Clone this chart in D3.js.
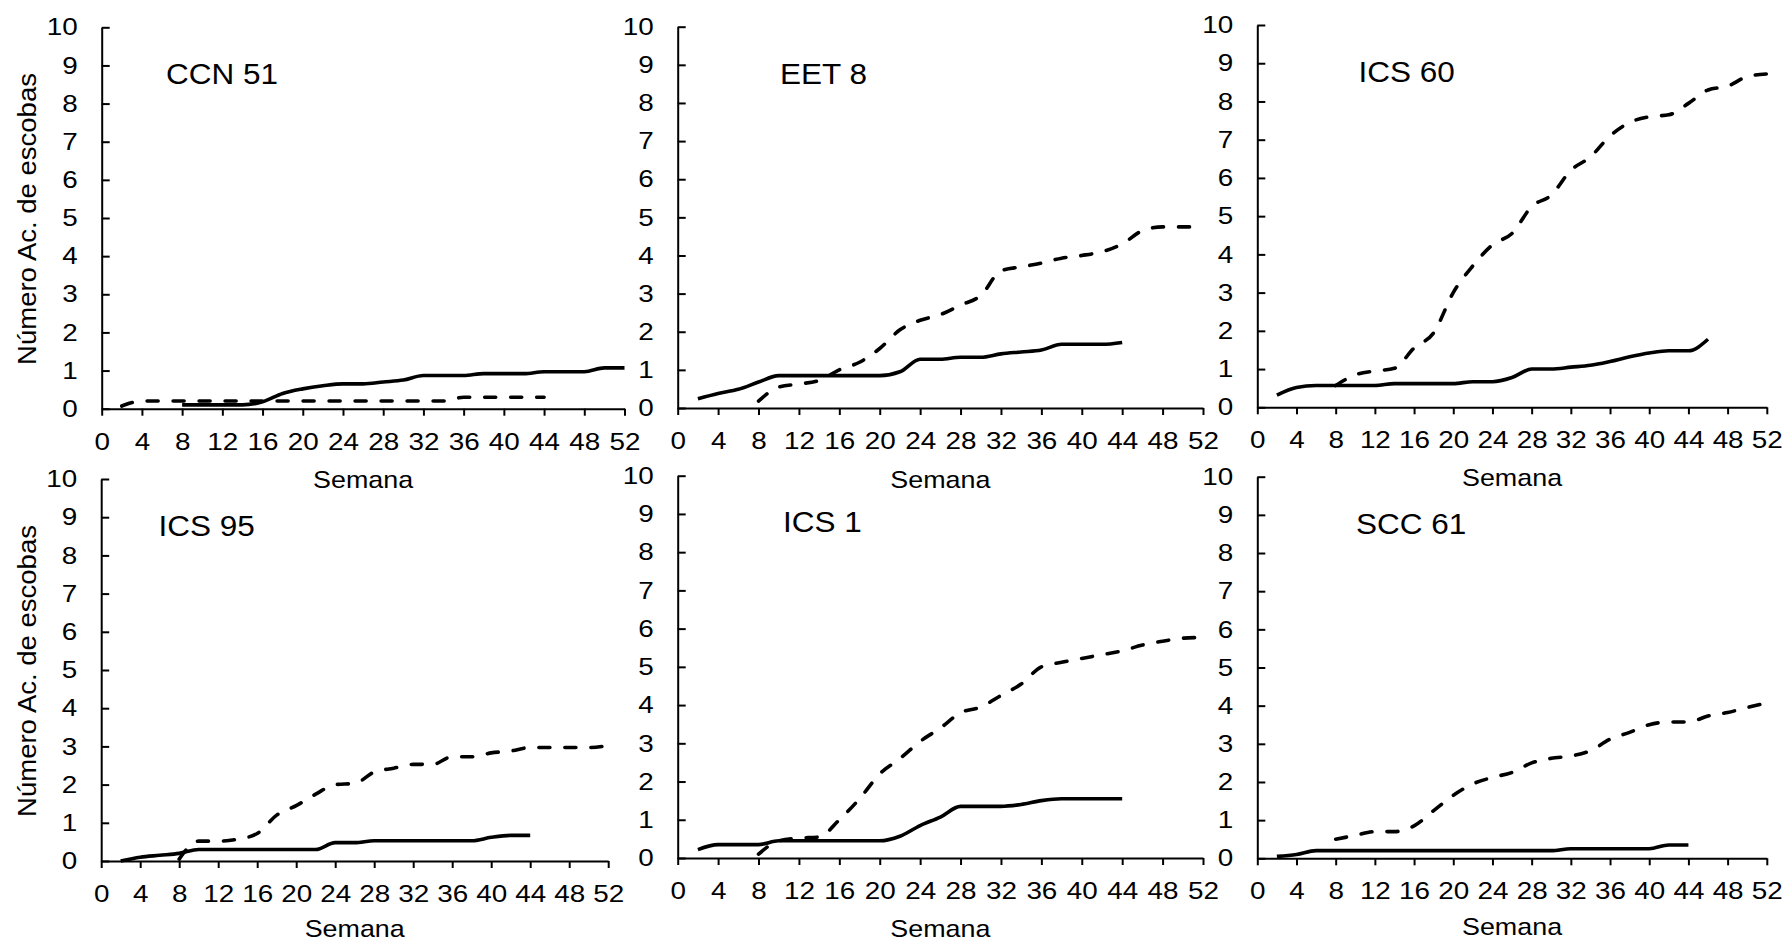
<!DOCTYPE html>
<html>
<head>
<meta charset="utf-8">
<script src="https://cdn.jsdelivr.net/npm/d3@7"></script>
<style>
  html, body { margin: 0; padding: 0; background: #fff; }
  svg { display: block; font-family: "Liberation Sans", Arial, sans-serif; }
</style>
</head>
<body>
<svg id="chart" width="1786" height="943"></svg>
<script>
// Semanas de evaluación (eje x)
const weeks = [2,4,6,8,10,12,14,16,18,20,22,24,26,28,30,32,34,36,38,40,42,44,46,48,50,52];
const xTicks = [0,4,8,12,16,20,24,28,32,36,40,44,48,52];
const yTicks = [0,1,2,3,4,5,6,7,8,9,10];
const cultivars = ["CCN 51", "EET 8", "ICS 60", "ICS 95", "ICS 1", "SCC 61"];

// Número acumulado de escobas por semana (null = sin registro)
const ccn51Solid  = [null,null,null,0.1,0.1,0.1,0.1,0.18,0.4,0.52,0.6,0.65,0.65,0.7,0.75,0.87,0.87,0.87,0.92,0.92,0.92,0.97,0.97,0.97,1.07,1.07];
const ccn51Dashed = [0.07,0.2,0.2,0.2,0.2,0.2,0.2,0.2,0.2,0.2,0.2,0.2,0.2,0.2,0.2,0.2,0.2,0.3,0.3,0.3,0.3,0.3,null,null,null,null];

const eet8Solid  = [0.24,0.38,0.49,0.68,0.85,0.85,0.85,0.85,0.85,0.85,0.95,1.28,1.28,1.33,1.33,1.42,1.47,1.52,1.67,1.67,1.67,1.72,null,null,null,null];
const eet8Dashed = [null,null,null,0.18,0.55,0.63,0.72,1.0,1.2,1.56,2.05,2.3,2.45,2.7,2.95,3.6,3.7,3.8,3.93,4.0,4.1,4.3,4.65,4.75,4.75,4.75];

const ics60Solid  = [0.32,0.52,0.57,0.57,0.57,0.57,0.62,0.62,0.62,0.62,0.67,0.67,0.78,1.0,1.0,1.05,1.1,1.2,1.32,1.42,1.48,1.48,1.78,null,null,null];
const ics60Dashed = [null,null,null,0.57,0.85,0.95,1.02,1.55,1.95,3.0,3.7,4.25,4.55,5.25,5.55,6.2,6.55,7.1,7.45,7.6,7.65,7.95,8.3,8.4,8.65,8.72];

const ics95Solid  = [0,0.1,0.15,0.2,0.3,0.3,0.3,0.3,0.3,0.3,0.3,0.48,0.48,0.53,0.53,0.53,0.53,0.53,0.53,0.62,0.67,0.67,null,null,null,null];
const ics95Dashed = [null,null,null,0.05,0.52,0.52,0.57,0.72,1.2,1.45,1.75,2.0,2.03,2.33,2.43,2.53,2.53,2.73,2.73,2.83,2.88,2.97,2.97,2.97,2.97,3.02];

const ics1Solid  = [0.22,0.35,0.35,0.35,0.45,0.45,0.45,0.45,0.45,0.45,0.57,0.85,1.07,1.35,1.35,1.35,1.4,1.5,1.55,1.55,1.55,1.55,null,null,null,null];
const ics1Dashed = [null,null,null,0.1,0.45,0.52,0.55,1.0,1.55,2.2,2.6,3.05,3.4,3.8,3.95,4.25,4.55,5.0,5.12,5.22,5.32,5.42,5.57,5.67,5.75,5.77];

const scc61Solid  = [0.05,0.1,0.2,0.2,0.2,0.2,0.2,0.2,0.2,0.2,0.2,0.2,0.2,0.2,0.2,0.25,0.25,0.25,0.25,0.25,0.35,0.35,null,null,null,null];
const scc61Dashed = [null,null,null,0.5,0.6,0.7,0.7,0.85,1.25,1.65,1.95,2.12,2.25,2.5,2.62,2.68,2.82,3.12,3.3,3.5,3.57,3.57,3.73,3.82,3.95,4.07];

const solidSeries  = [ccn51Solid, eet8Solid, ics60Solid, ics95Solid, ics1Solid, scc61Solid];
const dashedSeries = [ccn51Dashed, eet8Dashed, ics60Dashed, ics95Dashed, ics1Dashed, scc61Dashed];

// Marco de cada panel: extremos de los ejes en píxeles
const frames = [
  { x0: 101.7, x1: 624.5,  y0: 408.7, y1: 27.3,  title: [166, 84],    xLab: 488,   yLabel: true  },
  { x0: 677.7, x1: 1203,   y0: 408,   y1: 26.7,  title: [780, 83.5],  xLab: 488,   yLabel: false },
  { x0: 1257.3,x1: 1766.8, y0: 407.3, y1: 25,    title: [1358.5, 82], xLab: 485.5, yLabel: false },
  { x0: 101.2, x1: 608.2,  y0: 861,   y1: 479,   title: [158.5, 536], xLab: 936.5, yLabel: true  },
  { x0: 677.7, x1: 1203,   y0: 858,   y1: 475.7, title: [783, 532],   xLab: 936.5, yLabel: false },
  { x0: 1257.3,x1: 1766.8, y0: 858.3, y1: 476.7, title: [1356, 533.5],xLab: 935,   yLabel: false }
];

// Tipografía: tamaño y ensanchamiento horizontal de cada clase de texto
const tickFont = 24, tickStretch = 1.16;
const titleFont = 30, titleStretch = 1.05;
const axisTitleFont = 24, axisTitleStretch = 1.12;

const svg = d3.select("#chart");

frames.forEach((f, i) => {
  const x = d3.scaleLinear().domain([0, 52]).range([f.x0, f.x1]);
  const y = d3.scaleLinear().domain([0, 10]).range([f.y0, f.y1]);
  const g = svg.append("g");

  // Eje x
  const gx = g.append("g")
    .attr("transform", `translate(0,${f.y0})`)
    .call(d3.axisBottom(x).tickValues(xTicks).tickSize(7).tickSizeOuter(0).tickPadding(17));
  // Eje y con marcas hacia el interior
  const gy = g.append("g")
    .attr("transform", `translate(${f.x0},0)`)
    .call(d3.axisLeft(y).tickValues(yTicks).tickSize(-8).tickSizeOuter(0).tickPadding(24));

  [gx, gy].forEach(a => {
    a.select(".domain").attr("stroke", "#000").attr("stroke-width", 2);
    a.selectAll(".tick line").attr("stroke", "#000").attr("stroke-width", 2);
    a.selectAll(".tick text").attr("fill", "#000").style("font-size", tickFont + "px")
      .style("font-family", '"Liberation Sans", Arial, sans-serif')
      .attr("transform", `scale(${tickStretch},1)`);
  });
  gy.selectAll(".tick text").attr("x", -24 / tickStretch);

  // Líneas de datos
  const line = d3.line()
    .defined(d => d.v !== null)
    .x(d => x(d.w))
    .y(d => y(d.v))
    .curve(d3.curveMonotoneX);

  const solid = weeks.map((w, k) => ({ w, v: solidSeries[i][k] }));
  const dashed = weeks.map((w, k) => ({ w, v: dashedSeries[i][k] }));

  g.append("path").datum(dashed)
    .attr("d", line)
    .attr("fill", "none").attr("stroke", "#000").attr("stroke-width", 3.6)
    .attr("stroke-dasharray", "11,15").attr("stroke-linecap", "round").attr("stroke-linejoin", "round");

  g.append("path").datum(solid)
    .attr("d", line)
    .attr("fill", "none").attr("stroke", "#000").attr("stroke-width", 3.6)
    .attr("stroke-linecap", "butt").attr("stroke-linejoin", "round");

  // Nombre del cultivar
  g.append("text")
    .attr("transform", `translate(${f.title[0]},${f.title[1]}) scale(${titleStretch},1)`)
    .style("font-size", titleFont + "px").attr("fill", "#000")
    .text(cultivars[i]);

  // Título del eje x
  g.append("text")
    .attr("transform", `translate(${(f.x0 + f.x1) / 2},${f.xLab}) scale(${axisTitleStretch},1)`)
    .attr("text-anchor", "middle")
    .style("font-size", axisTitleFont + "px").attr("fill", "#000")
    .text("Semana");

  // Título del eje y
  if (f.yLabel) {
    const cy = (f.y0 + f.y1) / 2 + 1;
    g.append("text")
      .attr("transform", `translate(36,${cy}) rotate(-90) scale(1.1,1)`)
      .attr("text-anchor", "middle")
      .style("font-size", "25px").attr("fill", "#000")
      .text("Número Ac. de escobas");
  }
});
</script>
</body>
</html>
